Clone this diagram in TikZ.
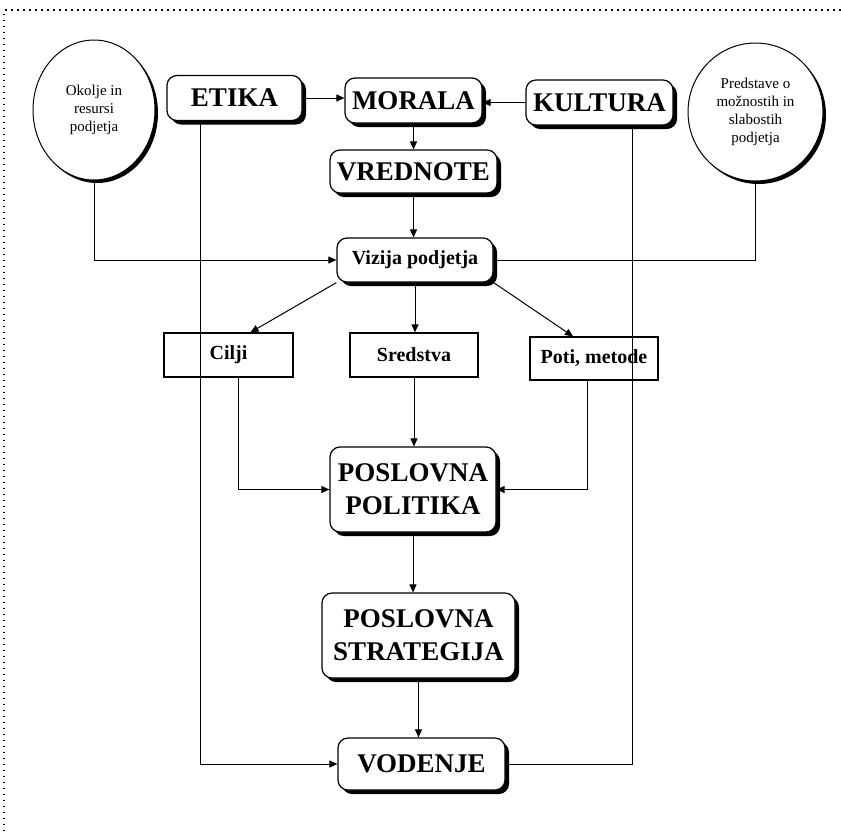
\documentclass[tikz,border=0pt]{standalone}
\usepackage{fontspec}
\setmainfont{Liberation Serif}
\usetikzlibrary{arrows.meta, shadows, shapes.geometric}

\begin{document}
\begin{tikzpicture}[x = 1pt, y = -1pt,
        every text node part/.style = {align = center},
        bigbox/.style = {draw, line width = 1.2pt, rounded corners = 10pt, fill = white, inner sep = 0pt,
            drop shadow = {shadow xshift = 4pt, shadow yshift = -4pt, opacity = 1, fill = black},
            font = \fontsize{27}{33}\selectfont\bfseries},
        midbox/.style = {bigbox, font = \fontsize{20}{24}\selectfont\bfseries},
        plainbox/.style = {draw, line width = 1.3pt, fill = white, inner sep = 0pt,
            font = \fontsize{20}{24}\selectfont\bfseries},
        oval/.style = {ellipse, draw, line width = 1pt, fill = white, inner sep = 0pt,
            drop shadow = {shadow xshift = 3pt, shadow yshift = -3pt, opacity = 1, fill = black},
            font = \fontsize{15}{18}\selectfont},
        line/.style = {line width = 1pt},
        conn/.style = {line, -{Triangle[length = 8pt, width = 7pt]}}]
    \useasboundingbox (0, 0) rectangle (841, 831);
    \draw[line width = 1.5pt, dash pattern = on 1.5pt off 4.5pt]
        (4, 831) -- (4, 10) -- (841, 10);
        \node[oval, minimum width = 122pt, minimum height = 140pt] (okolje) at (94, 110)
            {Okolje in \\ resursi \\ podjetja};
        \node[oval, minimum width = 135pt, minimum height = 138pt] (predstave) at (755.5, 112)
            {Predstave o \\ možnostih in \\ slabostih \\ podjetja};
        \node[bigbox, minimum width = 135pt, minimum height = 45pt] (etika) at (234.5, 98) {ETIKA};
        \node[bigbox, minimum width = 137pt, minimum height = 45pt] (morala) at (413.5, 100.5) {MORALA};
        \node[bigbox, minimum width = 147pt, minimum height = 45pt] (kultura) at (599.5, 102.5) {KULTURA};
        \node[bigbox, minimum width = 167pt, minimum height = 43pt] (vrednote) at (413.5, 171.5) {VREDNOTE};
        \node[midbox, minimum width = 156pt, minimum height = 44pt] (vizija) at (415, 260) {Vizija podjetja};
        \node[plainbox, minimum width = 129pt, minimum height = 44pt] (cilji) at (228.5, 355) {Cilji};
        \node[plainbox, minimum width = 128pt, minimum height = 44pt] (sredstva) at (414, 355) {Sredstva};
        \node[plainbox, minimum width = 128pt, minimum height = 43pt] (poti) at (594, 358.5) {Poti, metode};
        \node[bigbox, minimum width = 166pt, minimum height = 85pt] (politika) at (413, 489.5)
            {POSLOVNA \\ POLITIKA};
        \node[bigbox, minimum width = 193pt, minimum height = 85pt] (strategija) at (418.5, 635.5)
            {POSLOVNA \\ STRATEGIJA};
        \node[bigbox, minimum width = 167pt, minimum height = 52pt] (vodenje) at (421.5, 764) {VODENJE};
    \draw[conn] (etika.east) -- (etika.east -| morala.west);
    \draw[conn] (kultura.west) -- (kultura.west -| morala.east);
    \draw[conn] (morala.south) -- (morala.south |- vrednote.north);
    \draw[conn] (vrednote.south) -- (vrednote.south |- vizija.north);
    \draw[conn] (okolje.south) |- (vizija.west);
    \draw[line] (predstave.south) |- (vizija.east);
    \draw[conn] (vizija.south west) -- ([xshift = 22pt]cilji.north);
    \draw[conn] (vizija.south) -- (vizija.south |- sredstva.north);
    \draw[conn] (vizija.south east) -- ([xshift = -21pt]poti.north);
    \draw[conn] ([xshift = 10pt]cilji.south) |- (politika.west);
    \draw[conn] (sredstva.south) -- (sredstva.south |- politika.north);
    \draw[conn] ([xshift = -7pt]poti.south) |- (politika.east);
    \draw[conn] (politika.south) -- (politika.south |- strategija.north);
    \draw[conn] (strategija.south) -- (strategija.south |- vodenje.north);
    \draw[conn] ([xshift = -34pt]etika.south) |- (vodenje.west);
    \draw[line] ([xshift = 33pt]kultura.south) |- (vodenje.east);
\end{tikzpicture}
\end{document}
